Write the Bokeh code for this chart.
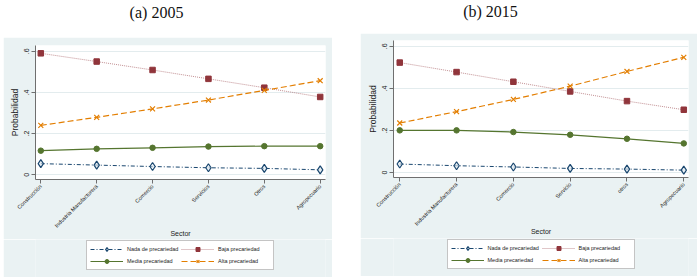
import math
from bokeh.plotting import figure
from bokeh.models import (Legend, LegendItem, FixedTicker, Range1d, Label, Spacer)
from bokeh.layouts import row, column
from bokeh.embed import file_html
from bokeh.resources import INLINE

# ---------------- data ----------------
titles = ["(a) 2005", "(b) 2015"]
categories_2005 = ["Construcción", "Industria Manufacturera", "Comercio", "Servicios", "Otros", "Agropecuario"]
categories_2015 = ["Construcción", "Industria Manufacturera", "Comercio", "Servicio", "otros", "Agropecuario"]

nada_2005 = [0.054, 0.047, 0.040, 0.034, 0.031, 0.024]
baja_2005 = [0.590, 0.550, 0.509, 0.466, 0.423, 0.378]
media_2005 = [0.117, 0.126, 0.131, 0.137, 0.139, 0.139]
alta_2005 = [0.240, 0.279, 0.320, 0.363, 0.410, 0.457]

nada_2015 = [0.041, 0.033, 0.027, 0.020, 0.017, 0.012]
baja_2015 = [0.523, 0.478, 0.432, 0.386, 0.340, 0.299]
media_2015 = [0.201, 0.201, 0.193, 0.180, 0.161, 0.139]
alta_2015 = [0.236, 0.290, 0.348, 0.411, 0.481, 0.548]

series_labels = ["Nada de precariedad", "Baja precariedad", "Media precariedad", "Alta precariedad"]
y_ticks = [0, 0.2, 0.4, 0.6]
y_tick_labels = ["0", ".2", ".4", ".6"]
x_title = "Sector"
y_title = "Probabilidad"

# ---------------- style ----------------
BG = "#eaf2f3"
FONT = "Liberation Sans"
AXC = "#6f6f6f"
NAVY = "#1a476f"
MAROON = "#90353b"
GREEN = "#55752f"
ORANGE = "#e37e00"


def add_series(p, x, nada, baja, media, alta):
    r = []
    r.append([p.line(x, nada, line_color=NAVY, line_width=1, line_dash="4 2 1 2"),
              p.scatter(x, nada, marker="diamond", size=8, line_color=NAVY, fill_color="#dbe6ee",
                        fill_alpha=0.6, line_width=1.2)])
    r.append([p.line(x, baja, line_color=MAROON, line_alpha=0.55, line_width=1, line_dash="1 1"),
              p.scatter(x, baja, marker="square", size=5.5, line_color=MAROON, fill_color=MAROON)])
    r.append([p.line(x, media, line_color=GREEN, line_width=1.2),
              p.scatter(x, media, marker="circle", size=5.5, line_color=GREEN, fill_color=GREEN)])
    r.append([p.line(x, alta, line_color=ORANGE, line_width=1.2, line_dash="6 3"),
              p.scatter(x, alta, marker="x", size=7, line_color=ORANGE, line_width=1.2)])
    return r


def make_panel(cats, nada, baja, media, alta, width, height, borders, xr, leg_h, leg_left):
    bl, br, bt, bb = borders
    p = figure(width=width, height=height, output_backend="svg", toolbar_location=None,
               x_range=Range1d(*xr), y_range=Range1d(-0.023, 0.628),
               min_border_left=bl, min_border_right=br, min_border_top=bt, min_border_bottom=bb)
    p.border_fill_color = BG
    p.background_fill_color = "white"
    p.outline_line_color = None

    x = list(range(len(cats)))
    add_series(p, x, nada, baja, media, alta)

    # axes
    p.xaxis.ticker = FixedTicker(ticks=x)
    p.xaxis.major_label_overrides = {i: c for i, c in zip(x, cats)}
    p.xaxis.major_label_orientation = math.pi / 4
    p.xaxis.axis_label = x_title
    p.yaxis.ticker = FixedTicker(ticks=y_ticks)
    p.yaxis.major_label_overrides = {t: l for t, l in zip(y_ticks, y_tick_labels)}
    p.yaxis.major_label_orientation = "vertical"
    p.yaxis.axis_label = y_title

    for ax in (p.xaxis, p.yaxis):
        ax.axis_line_color = AXC
        ax.major_tick_line_color = AXC
        ax.major_tick_out = 4
        ax.major_tick_in = 0
        ax.minor_tick_line_color = None
        ax.major_label_text_font = FONT
        ax.major_label_text_color = "#222222"
        ax.axis_label_text_font = FONT
        ax.axis_label_text_font_style = "normal"
        ax.axis_label_text_color = "#222222"
        ax.major_label_standoff = 2
    p.xaxis.major_label_text_font_size = "5.5px"
    p.xaxis.axis_label_text_font_size = "7px"
    p.xaxis.axis_label_standoff = -4
    p.yaxis.major_label_text_font_size = "7px"
    p.yaxis.axis_label_text_font_size = "8.5px"
    p.yaxis.axis_label_standoff = 2

    p.xgrid.grid_line_color = None
    p.ygrid.ticker = FixedTicker(ticks=y_ticks)
    p.ygrid.grid_line_color = "#e3ecee"
    p.ygrid.grid_line_width = 1

    # legend strip (same series, drawn outside its visible range, only the key shows)
    lg = figure(width=width, height=leg_h, output_backend="svg", toolbar_location=None,
                x_range=Range1d(100, 101), y_range=Range1d(100, 101),
                x_axis_location=None, y_axis_location=None,
                min_border_left=leg_left, min_border_right=0, min_border_top=0, min_border_bottom=0)
    lg.grid.visible = False
    lg.outline_line_color = None
    lg.background_fill_color = BG
    lg.border_fill_color = BG
    rs = add_series(lg, x, nada, baja, media, alta)
    items = [LegendItem(label=lab, renderers=rr) for lab, rr in zip(series_labels, rs)]
    leg = Legend(items=items, location="top_center", orientation="horizontal", nrows=2,
                 label_text_font=FONT, label_text_font_size="5.5px", label_text_color="#222222",
                 glyph_width=33, glyph_height=10, label_height=10, label_width=52,
                 label_standoff=4, spacing=2, padding=3, margin=1,
                 border_line_color="#8a8a8a", border_line_width=1,
                 background_fill_color="white", background_fill_alpha=1.0)
    lg.add_layout(leg)
    return column(p, lg)


pL = make_panel(categories_2005, nada_2005, baja_2005, media_2005, alta_2005,
                329, 202, (32, 7, 8, 60), (-0.095, 5.095), 38, 24)
pR = make_panel(categories_2015, nada_2015, baja_2015, media_2015, alta_2015,
                337, 205, (33, 9, 7, 61), (-0.11, 5.083), 38, 24)

# title strip
t = figure(width=700, height=33, output_backend="svg", toolbar_location=None,
           x_range=Range1d(0, 700), y_range=Range1d(0, 33),
           x_axis_location=None, y_axis_location=None, min_border=0)
t.grid.visible = False
t.outline_line_color = None
t.background_fill_color = "white"
t.border_fill_color = "white"
for txt, cx, cy in zip(titles, [156, 490], [21, 22]):
    t.add_layout(Label(x=cx, y=cy, x_units="screen", y_units="screen", text=txt,
                       text_font="Liberation Serif", text_font_size="16px",
                       text_align="center", text_baseline="middle", text_color="#111111"))

layout = column(t, row(Spacer(width=3), column(Spacer(height=4), pL), Spacer(width=28), pR))

open("out.html", "w").write(file_html(layout, INLINE))
